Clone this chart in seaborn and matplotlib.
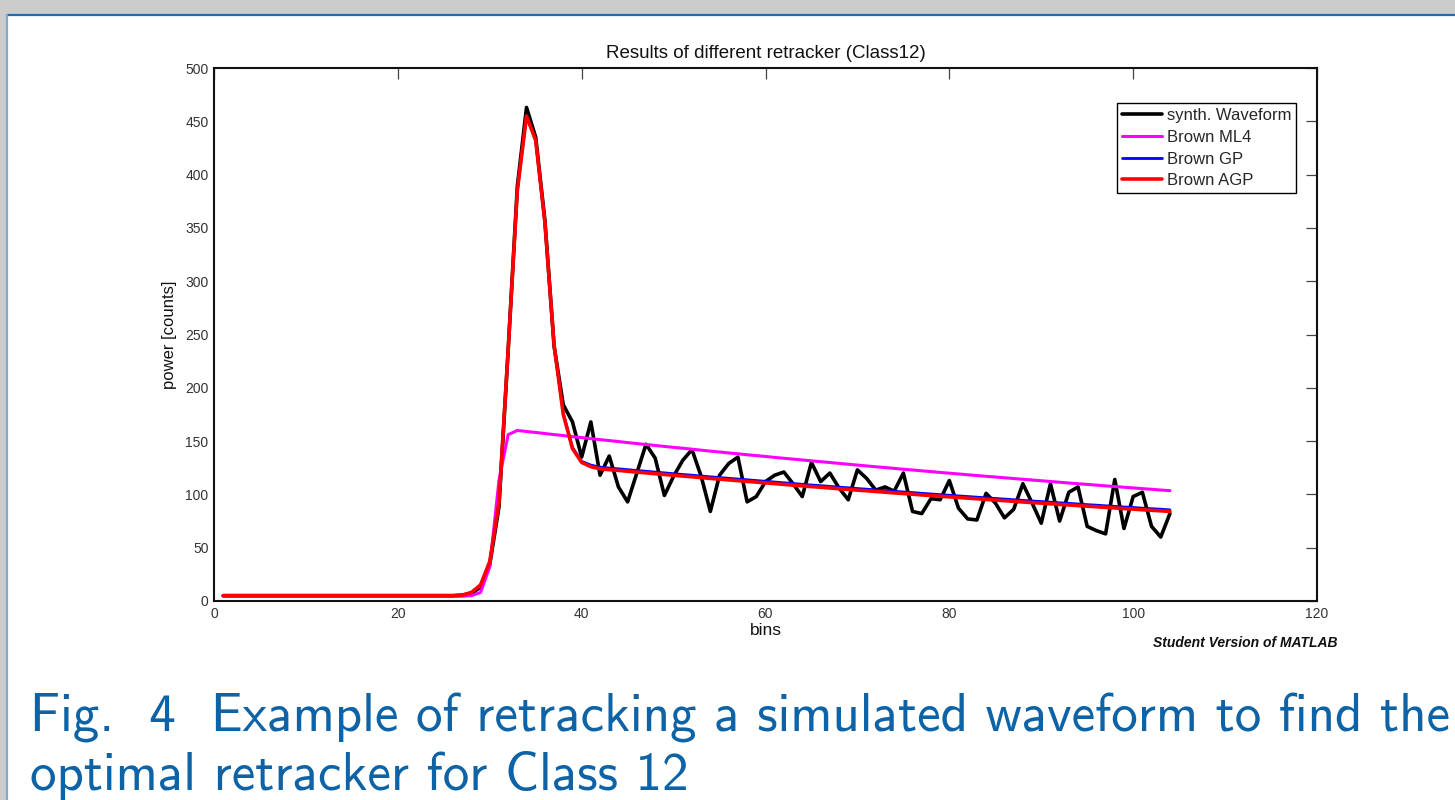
import numpy as np
import pandas as pd
import matplotlib
matplotlib.use("Agg")
import matplotlib.pyplot as plt
import seaborn as sns
from matplotlib.patches import Rectangle
from matplotlib.lines import Line2D

# ---------------- data ----------------
bins = list(range(1, 105))

synth_waveform = [
    5, 5, 5, 5, 5, 5, 5, 5, 5, 5, 5, 5, 5, 5, 5, 5, 5, 5, 5, 5, 5, 5, 5, 5, 5, 5,
    5.5, 7, 13, 34, 88, 235, 389, 463, 435, 357, 239, 184, 168, 135,
    168, 118, 136, 107, 93, 120, 147, 134, 99, 117,
    132, 142, 117, 84, 118, 129, 135, 93, 98, 112,
    118, 121, 110, 98, 130, 112, 120, 106, 95, 123,
    115, 104, 107, 103, 120, 84, 82, 96, 95, 113,
    87, 77, 76, 101, 92, 78, 86, 110, 92, 73,
    110, 75, 102, 107, 70, 66, 63, 114, 68, 98,
    102, 70, 60, 82,
]

brown_ml4 = [
    4.5, 4.5, 4.5, 4.5, 4.5, 4.5, 4.5, 4.5, 4.5, 4.5, 4.5, 4.5, 4.5, 4.5, 4.5,
    4.5, 4.5, 4.5, 4.5, 4.5, 4.5, 4.5, 4.5, 4.5, 4.5, 4.5, 4.5,
    5, 8, 32, 113, 156,
    160.0, 159.0, 158.1, 157.1, 156.1, 155.2, 154.2, 153.3, 152.3, 151.4,
    150.5, 149.6, 148.6, 147.7, 146.8, 145.9, 145.0, 144.1, 143.3, 142.4,
    141.5, 140.6, 139.8, 138.9, 138.1, 137.2, 136.4, 135.6, 134.7, 133.9,
    133.1, 132.3, 131.5, 130.7, 129.9, 129.1, 128.3, 127.5, 126.7, 125.9,
    125.2, 124.4, 123.6, 122.9, 122.1, 121.4, 120.6, 119.9, 119.2, 118.4,
    117.7, 117.0, 116.3, 115.6, 114.9, 114.2, 113.5, 112.8, 112.1, 111.4,
    110.7, 110.0, 109.4, 108.7, 108.0, 107.4, 106.7, 106.1, 105.4, 104.8,
    104.1, 103.5,
]

brown_gp = [
    5, 5, 5, 5, 5, 5, 5, 5, 5, 5, 5, 5, 5, 5, 5, 5, 5, 5, 5, 5, 5, 5, 5, 5, 5, 5,
    5.5, 8, 15, 37, 92, 235, 385, 455, 432, 355, 240, 176, 144, 131, 127.5,
    125.5, 124.7, 124.0, 123.2, 122.4, 121.7, 120.9, 120.2, 119.4, 118.7,
    118.0, 117.2, 116.5, 115.8, 115.1, 114.4, 113.7, 113.0, 112.3, 111.6,
    110.9, 110.2, 109.5, 108.8, 108.2, 107.5, 106.8, 106.2, 105.5, 104.9,
    104.2, 103.6, 102.9, 102.3, 101.7, 101.0, 100.4, 99.8, 99.2, 98.6,
    98.0, 97.4, 96.8, 96.2, 95.6, 95.0, 94.4, 93.8, 93.3, 92.7,
    92.1, 91.6, 91.0, 90.4, 89.9, 89.3, 88.8, 88.2, 87.7, 87.1,
    86.6, 86.1, 85.5,
]

brown_agp = [
    5, 5, 5, 5, 5, 5, 5, 5, 5, 5, 5, 5, 5, 5, 5, 5, 5, 5, 5, 5, 5, 5, 5, 5, 5, 5,
    5.5, 8, 15, 37, 92, 235, 385, 455, 432, 355, 240, 175, 143, 130, 126,
    124.0, 123.2, 122.5, 121.7, 120.9, 120.2, 119.4, 118.7, 117.9, 117.2,
    116.5, 115.7, 115.0, 114.3, 113.6, 112.9, 112.2, 111.5, 110.8, 110.1,
    109.4, 108.7, 108.0, 107.3, 106.7, 106.0, 105.3, 104.7, 104.0, 103.4,
    102.7, 102.1, 101.4, 100.8, 100.2, 99.5, 98.9, 98.3, 97.7, 97.1,
    96.5, 95.9, 95.3, 94.7, 94.1, 93.5, 92.9, 92.3, 91.8, 91.2,
    90.6, 90.1, 89.5, 88.9, 88.4, 87.8, 87.3, 86.7, 86.2, 85.6,
    85.1, 84.6, 84.0,
]

series_names = ["synth. Waveform", "Brown ML4", "Brown GP", "Brown AGP"]
series_values = [synth_waveform, brown_ml4, brown_gp, brown_agp]
series_colors = ["#000000", "#ff00ff", "#0000ff", "#ff0000"]
series_widths = [2.6, 2.2, 2.0, 2.6]

x_ticks = [0, 20, 40, 60, 80, 100, 120]
y_ticks = [0, 50, 100, 150, 200, 250, 300, 350, 400, 450, 500]

title_text = "Results of different retracker (Class12)"
caption_lines = ["Fig.  4  Example of retracking a simulated waveform to find the",
                 "optimal retracker for Class 12"]

# ---------------- figure ----------------
sns.set_style("white")
plt.rcParams["font.family"] = ["Liberation Sans", "DejaVu Sans"]

W, H = 1455, 800
fig = plt.figure(figsize=(W / 100, H / 100), dpi=100)
fig.patch.set_facecolor("#cccccc")
fig.add_artist(Rectangle((8 / W, 0), 1, (H - 15) / H, transform=fig.transFigure,
                         facecolor="white", edgecolor="none", zorder=-10))
fig.add_artist(Line2D([7 / W, 1], [(H - 14.5) / H] * 2, color="#1c6db2", lw=1.6,
                      transform=fig.transFigure))
fig.add_artist(Line2D([7 / W] * 2, [0, (H - 15) / H], color="#80a9cc", lw=1.6,
                      transform=fig.transFigure))

ax = fig.add_axes([214 / W, 1 - 601 / H, (1317 - 214) / W, (601 - 68) / H])
ax.set_facecolor("white")

for name, vals, col, lw in zip(series_names, series_values, series_colors, series_widths):
    df = pd.DataFrame({"bins": bins, "power": vals})
    sns.lineplot(data=df, x="bins", y="power", color=col, linewidth=lw,
                 label=name, ax=ax, sort=False, estimator=None)

ax.set_xlim(0, 120)
ax.set_ylim(0, 500)
ax.set_xticks(x_ticks)
ax.set_yticks(y_ticks)
ax.tick_params(direction="in", top=True, right=True, length=8, width=0.9,
               color="#444444", labelsize=10, labelcolor="#333333", pad=4)
for sp in ax.spines.values():
    sp.set_color("#111111")
    sp.set_linewidth(1.5)

ax.set_title(title_text, fontsize=13.5, pad=7, color="#111111")
ax.set_xlabel("bins", fontsize=12.5, labelpad=2, color="#111111")
ax.set_ylabel("power [counts]", fontsize=12, labelpad=6, color="#111111")

leg = ax.legend(loc="upper right", bbox_to_anchor=(0.981, 0.934), fontsize=12,
                frameon=True, fancybox=False, edgecolor="black", framealpha=1,
                handlelength=2.4, handletextpad=0.25, borderpad=0.3,
                labelspacing=0.4, borderaxespad=0)
leg.get_frame().set_linewidth(1.0)

fig.text(1245 / W, 1 - 643 / H, "Student Version of MATLAB", ha="center", va="center",
         fontsize=10, fontweight="bold", fontstyle="italic", color="#111111")

fig.text(30 / W, 1 - 718 / H, caption_lines[0], ha="left", va="center",
         family=["cmss10", "DejaVu Sans"], fontsize=38.2, color="#0d63a5")
fig.text(30 / W, 1 - 776 / H, caption_lines[1], ha="left", va="center",
         family=["cmss10", "DejaVu Sans"], fontsize=38.2, color="#0d63a5")

fig.savefig("out.png", dpi=100, facecolor=fig.get_facecolor())
